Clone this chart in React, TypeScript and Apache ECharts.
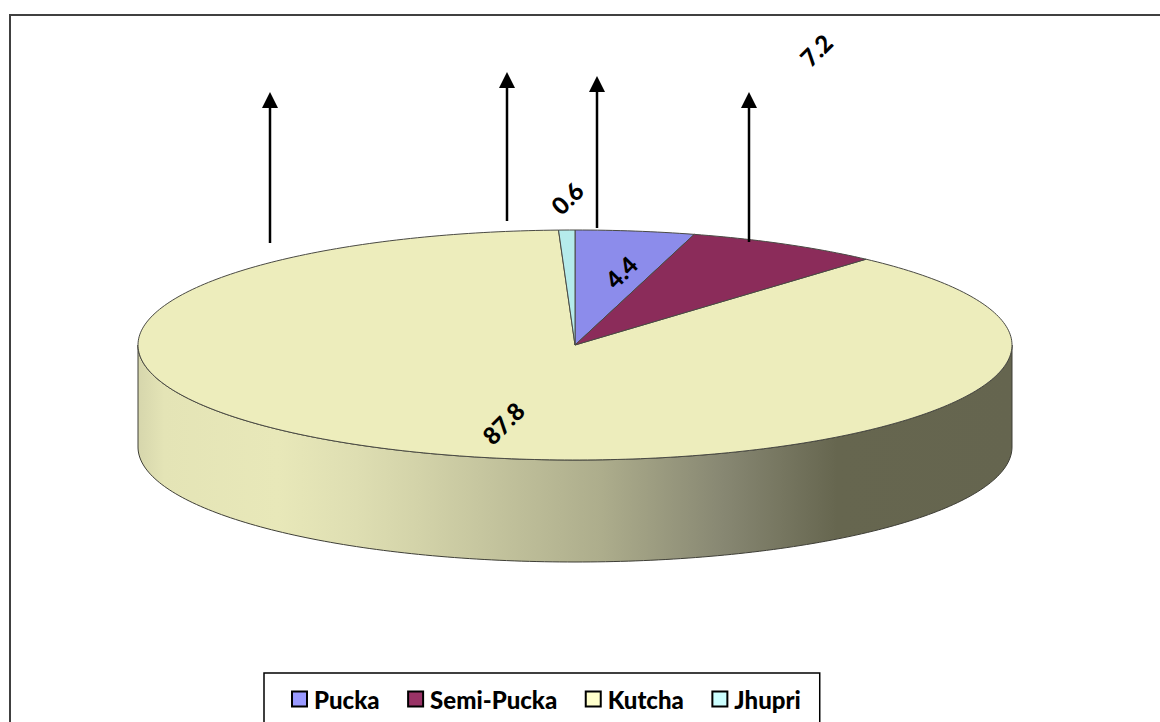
import React, { useEffect, useRef } from "react";
import * as echarts from "echarts";

const categories = ["Pucka", "Semi-Pucka", "Kutcha", "Jhupri"];
const values = [4.4, 7.2, 87.8, 0.6];
const topColors = ["#8C8CEB", "#8B2C5A", "#EDEDBC", "#B5EBEB"];
const legendColors = ["#9999FF", "#993366", "#FFFFCC", "#CCFFFF"];
const labelPositions = [[621, 272], [816, 50], [503, 423], [567, 198]];
const arrows = [[270, 243, 92], [507, 221, 72], [597, 228, 76], [749, 242, 92]];

const CX = 575, CY = 345, RX = 437, RY = 115, DEPTH = 102;
const total = values.reduce((a, b) => a + b, 0);

function pt(deg: number, dy = 0) {
  const r = (deg * Math.PI) / 180;
  return [CX + RX * Math.sin(r), CY - RY * Math.cos(r) + dy];
}
function arcPts(a: number, b: number, dy = 0) {
  const out: number[][] = [];
  const n = Math.max(2, Math.ceil((b - a) / 1));
  for (let i = 0; i <= n; i++) out.push(pt(a + ((b - a) * i) / n, dy));
  return out;
}

const wallGradient = () =>
  new echarts.graphic.LinearGradient(0, 0, 1, 0, [
    { offset: 0, color: "#D6D6AC" },
    { offset: 0.03, color: "#E4E4B6" },
    { offset: 0.16, color: "#E8E8B9" },
    { offset: 0.25, color: "#DEDEB2" },
    { offset: 0.32, color: "#D3D3A9" },
    { offset: 0.53, color: "#ADAD8C" },
    { offset: 0.67, color: "#878772" },
    { offset: 0.8, color: "#66664F" },
    { offset: 1, color: "#65654F" },
  ]);

function makeSeries(i: number): any {
  const start = (values.slice(0, i).reduce((a, b) => a + b, 0) / total) * 360;
  const end = start + (values[i] / total) * 360;
  return {
    type: "custom",
    name: categories[i],
    coordinateSystem: "none",
    data: [values[i]],
    z: 2 + (i === 2 ? 0 : 1),
    itemStyle: { color: legendColors[i] },
    renderItem: () => {
      const children: any[] = [];
      const vs = Math.max(start, 90), ve = Math.min(end, 270);
      if (ve > vs) {
        children.push({
          type: "polygon",
          shape: { points: [...arcPts(vs, ve), ...arcPts(vs, ve, DEPTH).reverse()] },
          style: { fill: wallGradient(), stroke: "#3E3E36", lineWidth: 1 },
        });
      }
      children.push({
        type: "polygon",
        shape: { points: [[CX, CY], ...arcPts(start, end)] },
        style: { fill: topColors[i], stroke: "#4A4A44", lineWidth: 1 },
      });
      return { type: "group", children };
    },
  };
}

function makeLabels(): any[] {
  return values.map((v, i) => ({
    type: "text",
    x: labelPositions[i][0],
    y: labelPositions[i][1],
    rotation: Math.PI / 4,
    z: 10,
    style: {
      text: v.toFixed(1),
      fill: "#000",
      font: "900 24px Lato",
      textAlign: "center",
      textVerticalAlign: "middle",
    },
  }));
}

function makeArrows(): any[] {
  const out: any[] = [];
  arrows.forEach(([x, y0, y1]) => {
    out.push({
      type: "line",
      z: 9,
      shape: { x1: x, y1: y0, x2: x, y2: y1 + 10 },
      style: { stroke: "#000", lineWidth: 2.5 },
    });
    out.push({
      type: "polygon",
      z: 9,
      shape: { points: [[x, y1], [x - 8, y1 + 16], [x + 8, y1 + 16]] },
      style: { fill: "#000" },
    });
  });
  return out;
}

export default function App() {
  const ref = useRef<HTMLDivElement>(null);
  useEffect(() => {
    const chart = echarts.init(ref.current!, undefined, { renderer: "svg" });
    chart.setOption({
      animation: false,
      backgroundColor: "#fff",
      legend: {
        data: categories.map((name, i) => ({
          name,
          itemStyle: { color: legendColors[i], borderColor: "#000", borderWidth: 2 },
        })),
        left: 264,
        top: 673,
        orient: "horizontal",
        selectedMode: false,
        icon: "rect",
        itemWidth: 15,
        itemHeight: 15,
        itemGap: 27.5,
        padding: [14, 19, 30, 27],
        borderColor: "#000",
        borderWidth: 1.5,
        backgroundColor: "#fff",
        textStyle: { fontFamily: "Lato", fontWeight: 900, fontSize: 24, color: "#000", padding: [0, 0, 0, 2] },
      },
      graphic: [
        {
          type: "rect",
          z: 0,
          shape: { x: 10, y: 15, width: 1300, height: 800 },
          style: { fill: "none", stroke: "#404040", lineWidth: 2 },
        },
        ...makeArrows(),
        ...makeLabels(),
      ],
      series: categories.map((_, i) => makeSeries(i)),
    });
    return () => chart.dispose();
  }, []);
  return (
    <div
      ref={ref}
      style={{ position: "absolute", left: 0, top: 0, width: 1160, height: 722, overflow: "hidden" }}
    />
  );
}
